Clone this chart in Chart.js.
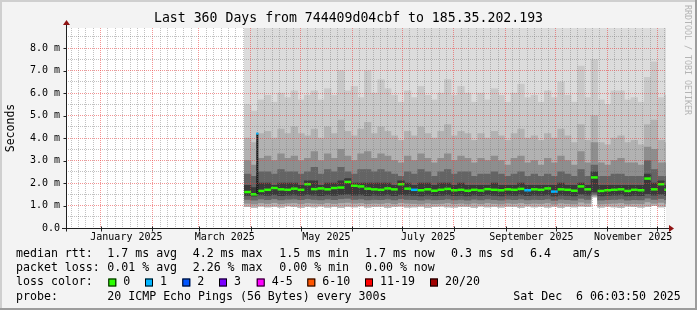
<!DOCTYPE html>
<html>
<head>
<meta charset="utf-8">
<script src="https://cdn.jsdelivr.net/npm/chart.js@4.4.1/dist/chart.umd.min.js"></script>
<style>
  html, body { margin: 0; padding: 0; background: #f3f3f3; }
  canvas { display: block; }
</style>
</head>
<body>
<canvas id="graph" width="697" height="310" style="width:697px;height:310px"></canvas>
<script>
// --- time frame: last 360 days up to the rrd end stamp ---
const endTime = Date.UTC(2025, 11, 6, 6, 3, 50);
const spanDays = 360;
const startTime = endTime - spanDays * 864e5;
const yMax = 8.9; // ms

// x axis labels (mid month) and their months
const labelMonths = [0, 2, 4, 6, 8, 10];
const xLabels = ['January 2025', 'March 2025', 'May 2025', 'July 2025', 'September 2025', 'November 2025'];

// smoke buckets: 4 days each, first bucket centred at day 109 (late March)
const binStart = 109;
const binStep = 4;

// upper edges of the smoke bands (ms), outer to inner
const hi1 = [5.5,5.2,5.7,5.9,5.6,6.0,5.8,6.1,5.7,5.9, 6.1,5.7,6.2,5.9,7.0,6.1,6.3,5.8,7.0,6.0,
             6.6,6.2,5.9,5.6,6.1,5.8,6.3,5.9,5.7,6.0, 6.6,5.9,6.3,6.0,5.6,6.0,5.7,6.2,5.9,5.6,
             6.0,6.4,5.8,5.9,5.6,6.1,5.8,6.5,5.9,5.6, 7.2,5.8,7.5,5.7,5.5,6.1,6.1,5.7,5.8,5.6,
             6.7,7.4,5.8,5.9];
const hi2 = [4.0,3.8,4.2,4.3,4.0,4.4,4.2,4.5,4.2,4.1, 4.4,4.0,4.5,4.2,4.8,4.3,4.1,4.4,4.7,4.2,
             4.5,4.3,4.1,3.9,4.3,4.1,4.5,4.2,4.0,4.3, 4.6,4.1,4.3,4.2,3.9,4.2,4.0,4.3,4.1,3.9,
             4.2,4.4,4.0,4.1,3.9,4.2,4.0,4.4,4.1,3.8, 4.6,3.9,5.0,3.8,3.7,4.0,4.1,3.8,3.9,3.7,
             4.6,4.8,3.9,3.8];
const hi3 = [3.0,2.8,3.1,3.2,3.0,3.3,3.1,3.2,3.0,3.1, 3.4,3.0,3.3,3.1,3.5,3.2,3.0,3.3,3.4,3.1,
             3.3,3.2,3.0,2.9,3.2,3.0,3.3,3.1,2.9,3.1, 3.3,3.0,3.2,3.1,2.9,3.1,3.0,3.2,3.0,2.8,
             3.1,3.2,2.9,3.0,2.8,3.1,2.9,3.2,3.0,2.8, 3.4,2.9,3.8,2.9,2.8,3.0,3.1,2.9,2.9,2.8,
             3.6,3.5,2.9,2.9];
const hi4 = [2.4,2.3,2.5,2.5,2.4,2.6,2.5,2.5,2.4,2.5, 2.7,2.4,2.6,2.5,2.7,2.5,2.4,2.6,2.6,2.5,
             2.6,2.5,2.4,2.3,2.5,2.4,2.6,2.5,2.3,2.5, 2.6,2.4,2.5,2.5,2.3,2.4,2.4,2.5,2.4,2.3,
             2.4,2.5,2.3,2.4,2.3,2.4,2.3,2.5,2.4,2.3, 2.6,2.3,2.8,2.3,2.3,2.4,2.4,2.3,2.3,2.3,
             3.0,2.6,2.3,2.3];
const hi5 = [1.9,1.8,2.0,2.0,1.9,2.0,2.0,2.0,1.9,2.1, 2.1,1.9,2.0,2.0,2.1,2.2,2.0,2.0,2.0,2.0,
             2.0,2.0,1.9,2.1,2.0,1.9,2.0,2.0,1.9,2.0, 2.0,1.9,2.0,1.9,1.9,1.9,1.9,2.0,1.9,1.9,
             1.9,2.0,1.9,1.9,1.9,1.9,1.9,2.0,1.9,1.9, 2.0,1.9,2.5,1.9,1.9,1.9,1.9,1.9,1.9,1.9,
             2.4,2.0,2.1,1.9];

// lower edges of the smoke bands (ms), outer to inner
const lo1 = [0.95,0.92,0.97,0.94,0.96,0.93,0.98,0.95,0.92,0.96, 0.94,0.97,0.93,0.95,0.92,0.96,0.94,0.98,0.93,0.95,
             0.96,0.92,0.95,0.97,0.93,0.94,0.96,0.92,0.95,0.97, 0.94,0.93,0.96,0.95,0.92,0.97,0.94,0.95,0.93,0.96,
             0.95,0.92,0.97,0.94,0.96,0.93,0.95,0.92,0.96,0.94, 0.97,0.95,1.38,0.93,0.96,0.94,0.92,0.97,0.95,0.93,
             0.96,1.00,0.94,0.95];
const lo2 = [1.10,1.07,1.12,1.09,1.13,1.08,1.11,1.12,1.08,1.12, 1.10,1.08,1.12,1.09,1.12,1.14,1.10,1.12,1.08,1.10,
             1.09,1.12,1.08,1.13,1.10,1.09,1.07,1.11,1.08,1.09, 1.12,1.08,1.10,1.07,1.11,1.08,1.12,1.09,1.07,1.11,
             1.09,1.12,1.08,1.10,1.09,1.12,1.06,1.11,1.09,1.07, 1.15,1.10,1.45,1.07,1.09,1.10,1.12,1.07,1.09,1.08,
             1.16,1.10,1.14,1.09];
const lo3 = [1.27,1.24,1.29,1.26,1.30,1.25,1.28,1.29,1.26,1.30, 1.27,1.25,1.29,1.26,1.30,1.32,1.27,1.29,1.25,1.27,
             1.26,1.29,1.25,1.30,1.27,1.26,1.24,1.28,1.25,1.26, 1.29,1.25,1.27,1.24,1.28,1.25,1.29,1.26,1.24,1.28,
             1.26,1.29,1.25,1.27,1.26,1.29,1.23,1.28,1.26,1.24, 1.32,1.27,1.50,1.24,1.26,1.27,1.29,1.24,1.26,1.25,
             1.33,1.27,1.31,1.26];
const lo4 = [1.45,1.42,1.47,1.45,1.48,1.44,1.46,1.47,1.45,1.48, 1.46,1.44,1.47,1.45,1.48,1.50,1.46,1.47,1.44,1.46,
             1.45,1.47,1.44,1.48,1.46,1.45,1.43,1.46,1.44,1.45, 1.47,1.44,1.45,1.43,1.46,1.44,1.47,1.45,1.43,1.46,
             1.45,1.47,1.44,1.46,1.45,1.47,1.42,1.46,1.45,1.43, 1.50,1.46,1.60,1.43,1.45,1.46,1.47,1.43,1.45,1.44,
             1.52,1.46,1.50,1.45];

// median rtt per bucket (ms) and buckets that lost one ping
const medianMs = [1.60,1.50,1.65,1.70,1.78,1.72,1.70,1.75,1.70,1.95, 1.73,1.76,1.72,1.78,1.80,2.05,1.88,1.85,1.75,1.72,
                  1.70,1.76,1.72,1.95,1.75,1.70,1.68,1.72,1.66,1.70, 1.74,1.68,1.70,1.66,1.70,1.67,1.73,1.70,1.68,1.72,
                  1.70,1.74,1.68,1.72,1.70,1.76,1.62,1.72,1.70,1.66, 1.85,1.72,2.25,1.65,1.68,1.70,1.72,1.65,1.70,1.68,
                  2.20,1.72,1.95,1.70];
const lossOneBins = [25, 42, 46];

// single tall median spike early in the series
const spikeDay = 114.8;
const spikeLow = 1.5;
const spikeHigh = 4.2;

// legend text
const legendRows = [
  { y: 254, items: [[16, 'median rtt:'], [107.3, '1.7 ms avg'], [192.7, '4.2 ms max'], [279.3, '1.5 ms min'],
                    [365, '1.7 ms now'], [451, '0.3 ms sd'], [530, '6.4'], [572.4, 'am/s']] },
  { y: 268, items: [[16, 'packet loss:'], [107.3, '0.01 % avg'], [192.7, '2.26 % max'], [279.3, '0.00 % min'],
                    [365, '0.00 % now']] },
  { y: 282, items: [[16, 'loss color:']] },
  { y: 296.5, items: [[16, 'probe:'], [107.3, '20 ICMP Echo Pings (56 Bytes) every 300s'], [513.3, 'Sat Dec  6 06:03:50 2025']] }
];
const lossLabels = ['0', '1', '2', '3', '4-5', '6-10', '11-19', '20/20'];
const lossColors = ['#2aff00', '#00b4ff', '#0055ff', '#7a00ff', '#ff00ff', '#ff5500', '#ff0000', '#a00000'];
const lossBoxX = [108.3, 145, 182.3, 219, 256.7, 307.3, 365, 430];

const MONO = '"DejaVu Sans Mono", monospace';
const GRID_MINOR = 'rgba(120,120,120,0.45)';
const GRID_MAJOR = 'rgba(235,60,60,0.55)';

Chart.defaults.font.family = MONO;

function dayOf(t) {
    return (t - startTime) / 864e5;
}

// month lines are major, each month split in ~4.5 day minor steps
function monthGrid() {
    const ticks = [];
    for (let m = -1; m < 13; m++) {
        const a = dayOf(Date.UTC(2025, m, 1));
        const b = dayOf(Date.UTC(2025, m + 1, 1));
        const n = Math.round((b - a) / 4.5);
        for (let k = 0; k < n; k++) {
            const d = a + k * (b - a) / n;
            if (d > 0 && d < spanDays) ticks.push({ value: d, major: k === 0 });
        }
    }
    return ticks;
}

const binDay = medianMs.map((_, i) => binStart + i * binStep);

function band(lows, highs, color) {
    return {
        type: 'bar',
        data: binDay.map((d, i) => ({ x: d, y: [lows[i], Array.isArray(highs) ? highs[i] : highs] })),
        backgroundColor: color,
        borderWidth: 0,
        grouped: false,
        barPercentage: 1,
        categoryPercentage: 1,
        clip: 0
    };
}

const datasets = [
    {
        type: 'line',
        data: [{ x: spikeDay, y: spikeLow }, { x: spikeDay, y: spikeHigh }],
        borderColor: '#151515',
        borderWidth: 2,
        pointRadius: [0, 1.6],
        pointStyle: 'rect',
        pointBackgroundColor: '#00b4ff',
        pointBorderWidth: 0
    },
    {
        type: 'line',
        data: binDay.map((d, i) => ({ x: d, y: medianMs[i] })),
        showLine: false,
        pointStyle: 'line',
        pointRadius: 3.4,
        pointBorderWidth: 2.5,
        pointBorderColor: medianMs.map((_, i) => lossOneBins.includes(i) ? lossColors[1] : lossColors[0])
    },
    band(lo4, hi5, '#3a3a3a'),
    band(lo3, hi4, '#646464'),
    band(lo2, hi3, '#8e8e8e'),
    band(lo1, hi2, '#b2b2b2'),
    band(lo1, hi1, '#c9c9c9'),
    band(lo1, yMax, '#dcdcdc')
];

// background, frame, axes with arrows and all the rrdtool style text
const frame = {
    id: 'frame',
    beforeDraw(chart) {
        const { ctx, chartArea: a } = chart;
        ctx.save();
        ctx.fillStyle = '#f3f3f3';
        ctx.fillRect(0, 0, 697, 310);
        ctx.fillStyle = '#cfcfcf';
        ctx.fillRect(0, 0, 697, 2);
        ctx.fillRect(0, 0, 2, 310);
        ctx.fillStyle = '#9c9c9c';
        ctx.fillRect(0, 308, 697, 2);
        ctx.fillRect(695, 0, 2, 310);
        ctx.fillStyle = '#ffffff';
        ctx.fillRect(a.left, a.top, a.right - a.left, a.bottom - a.top);
        ctx.restore();
    },
    afterDraw(chart) {
        const { ctx, chartArea: a, scales } = chart;
        const y0 = Math.round(scales.y.getPixelForValue(0)) + 0.5;
        const x0 = Math.round(a.left) + 0.5;
        ctx.save();

        // axes
        ctx.strokeStyle = '#202020';
        ctx.lineWidth = 1;
        ctx.beginPath();
        ctx.moveTo(62, y0); ctx.lineTo(670, y0);
        ctx.moveTo(x0, y0 + 3); ctx.lineTo(x0, 23);
        for (let v = 1; v <= 8; v++) {
            const py = Math.round(scales.y.getPixelForValue(v)) + 0.5;
            ctx.moveTo(x0 - 3, py); ctx.lineTo(x0, py);
        }
        monthGrid().filter(t => t.major).forEach(t => {
            const px = Math.round(scales.x.getPixelForValue(t.value)) + 0.5;
            ctx.moveTo(px, y0 - 2); ctx.lineTo(px, y0 + 3);
        });
        ctx.stroke();

        ctx.fillStyle = '#8f1414';
        ctx.beginPath();
        ctx.moveTo(669, y0 - 3.5); ctx.lineTo(674, y0); ctx.lineTo(669, y0 + 3.5);
        ctx.fill();
        ctx.beginPath();
        ctx.moveTo(x0 - 3.5, 25); ctx.lineTo(x0, 20); ctx.lineTo(x0 + 3.5, 25);
        ctx.fill();

        // title
        ctx.fillStyle = '#000';
        ctx.textBaseline = 'middle';
        ctx.textAlign = 'center';
        ctx.font = '13.2px ' + MONO;
        ctx.fillText('Last 360 Days from 744409d04cbf to 185.35.202.193', 348.5, 19);

        // legend
        ctx.textAlign = 'left';
        ctx.font = '11.6px ' + MONO;
        legendRows.forEach(row => {
            row.items.forEach(([x, s]) => ctx.fillText(s, x, row.y));
        });
        lossLabels.forEach((s, i) => {
            const bx = lossBoxX[i];
            ctx.fillStyle = lossColors[i];
            ctx.fillRect(bx, 278.5, 8, 8);
            ctx.strokeStyle = '#000';
            ctx.strokeRect(bx + 0.5, 279, 7, 7);
            ctx.fillStyle = '#000';
            ctx.fillText(s, bx + 15, 282);
        });

        // vertical watermark
        ctx.translate(687.5, 60);
        ctx.rotate(Math.PI / 2);
        ctx.textAlign = 'center';
        ctx.fillStyle = '#b4b4b4';
        ctx.font = '8.3px ' + MONO;
        ctx.fillText('RRDTOOL / TOBI OETIKER', 0, 0);
        ctx.restore();
    }
};

new Chart(document.getElementById('graph'), {
    type: 'bar',
    data: { datasets: datasets },
    options: {
        responsive: false,
        animation: false,
        devicePixelRatio: 1,
        events: [],
        layout: { padding: { left: 0, top: 28, right: 31, bottom: 0 } },
        plugins: {
            legend: { display: false },
            title: { display: false },
            tooltip: { enabled: false }
        },
        scales: {
            x: {
                type: 'linear',
                min: 0,
                max: spanDays,
                offset: false,
                grid: {
                    z: 1,
                    offset: false,
                    drawTicks: false,
                    lineWidth: 1,
                    color: c => (c.tick && c.tick.major) ? GRID_MAJOR : GRID_MINOR
                },
                border: { display: false, dash: [1, 1] },
                ticks: { display: false },
                afterBuildTicks: s => { s.ticks = monthGrid(); },
                afterFit: s => { s.height = 0; }
            },
            xl: {
                type: 'linear',
                position: 'bottom',
                min: 0,
                max: spanDays,
                offset: false,
                grid: { display: false, drawTicks: false },
                border: { display: false },
                ticks: {
                    autoSkip: false,
                    maxRotation: 0,
                    padding: 3,
                    color: '#000',
                    font: { size: 10 },
                    callback: (v, i) => xLabels[i]
                },
                afterBuildTicks: s => {
                    s.ticks = labelMonths.map(m => ({ value: dayOf(Date.UTC(2025, m, 16, 12)) }));
                },
                afterFit: s => { s.height = 82; }
            },
            y: {
                min: 0,
                max: yMax,
                grid: {
                    z: 1,
                    drawTicks: false,
                    lineWidth: 1,
                    color: c => {
                        const v = c.tick ? c.tick.value : 0;
                        if (v === 0) return 'rgba(0,0,0,0)';
                        return Number.isInteger(v) ? GRID_MAJOR : GRID_MINOR;
                    }
                },
                border: { display: false, dash: [1, 1] },
                ticks: {
                    padding: 6,
                    color: '#000',
                    font: { size: 10 },
                    autoSkip: false,
                    callback: v => Number.isInteger(v) ? (v === 0 ? '0.0' : v.toFixed(1) + ' m') : ''
                },
                title: {
                    display: true,
                    text: 'Seconds',
                    color: '#000',
                    font: { size: 11.5 },
                    padding: { top: 4, bottom: 0 }
                },
                afterBuildTicks: s => {
                    const t = [];
                    for (let k = 0; k <= 17; k++) t.push({ value: k / 2 });
                    s.ticks = t;
                },
                afterFit: s => { s.width = 66; }
            }
        }
    },
    plugins: [frame]
});
</script>
</body>
</html>
